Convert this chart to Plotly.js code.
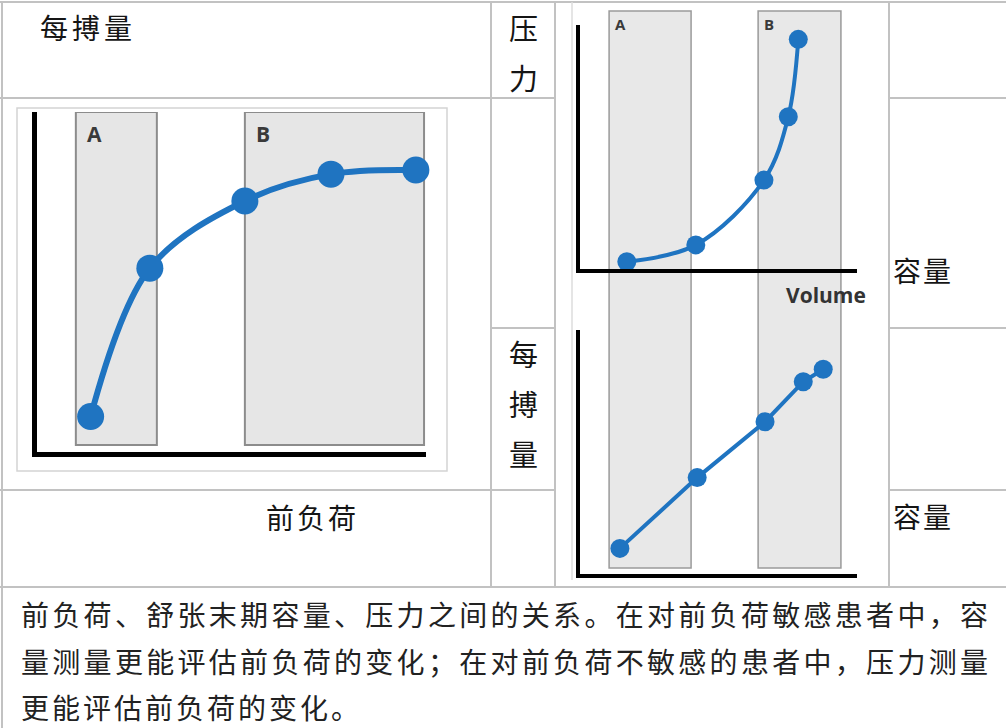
<!DOCTYPE html>
<html><head><meta charset="utf-8">
<script src="https://cdn.plot.ly/plotly-3.0.1.min.js"></script>
<style>html,body{margin:0;padding:0;background:#fff;}#chart{width:1006px;height:728px;}</style>
</head><body><div id="chart"></div>
<script>
// ---------- data ----------
const preloadX        = [1.39, 2.91, 5.35, 7.56, 9.74];
const strokeVolumeY   = [1.03, 5.40, 7.38, 8.17, 8.29];
const pressureVolX    = [1.69, 4.18, 6.64, 7.52, 7.88];
const pressureY       = [0.28, 0.97, 3.63, 6.23, 9.41];
const svVolX          = [1.44, 4.23, 6.68, 8.06, 8.78];
const svY             = [1.05, 3.95, 6.24, 7.88, 8.39];
const leftRegionA     = [1.01, 3.09];
const leftRegionB     = [5.35, 9.95];
const leftRegionY     = [0.19, 10];
const rightRegionA    = [1.05, 4.01];
const rightRegionB    = [6.43, 9.42];
const regionLabels    = ['A', 'B'];
const leftYLabel      = '每搏量';
const leftXLabel      = '前负荷';
const topRightYLabel  = '压力';
const bottomRightYLabel = '每搏量';
const rightXLabel     = '容量';
const volumeLabel     = 'Volume';
const captionLines = [
  '前负荷、舒张末期容量、压力之间的关系。在对前负荷敏感患者中，容',
  '量测量更能评估前负荷的变化；在对前负荷不敏感的患者中，压力测量',
  '更能评估前负荷的变化。'
];

// ---------- layout helpers ----------
const W = 1006, H = 728;
const fx = p => p / W;
const fy = p => 1 - p / H;
const BLUE = '#1f74c1';
const CJK = '"Noto Sans CJK SC", "Noto Sans", sans-serif';
const LAT = '"Open Sans", "DejaVu Sans", sans-serif';

const traces = [
  {x: preloadX, y: strokeVolumeY, xaxis: 'x', yaxis: 'y', mode: 'lines+markers',
   line: {color: BLUE, width: 6, shape: 'spline', smoothing: 1},
   marker: {color: BLUE, size: 27}, cliponaxis: false, hoverinfo: 'skip'},
  {x: pressureVolX, y: pressureY, xaxis: 'x2', yaxis: 'y2', mode: 'lines+markers',
   line: {color: BLUE, width: 4, shape: 'spline', smoothing: 1},
   marker: {color: BLUE, size: 19}, cliponaxis: false, hoverinfo: 'skip'},
  {x: svVolX, y: svY, xaxis: 'x3', yaxis: 'y3', mode: 'lines+markers',
   line: {color: BLUE, width: 4},
   marker: {color: BLUE, size: 19}, cliponaxis: false, hoverinfo: 'skip'}
];

function ax(domain, anchor, lw) {
  return {domain: domain, anchor: anchor, range: [0, 10], showline: true, linecolor: '#000',
          linewidth: lw, showgrid: false, zeroline: false, showticklabels: false, ticks: '',
          fixedrange: true};
}

const tableLine = (x0, y0, x1, y1) => ({type: 'line', xref: 'paper', yref: 'paper',
  x0: fx(x0), y0: fy(y0), x1: fx(x1), y1: fy(y1), line: {color: '#c2c2c2', width: 2}, layer: 'below'});

const shapes = [
  // table grid
  tableLine(0, 2, 1006, 2),
  tableLine(0, 98, 555, 98), tableLine(889, 98, 1006, 98),
  tableLine(491, 328, 555, 328), tableLine(889, 328, 1006, 328),
  tableLine(0, 490, 555, 490), tableLine(889, 490, 1006, 490),
  tableLine(0, 587, 1006, 587),
  tableLine(2, 2, 2, 728),
  tableLine(491, 2, 491, 587), tableLine(555, 2, 555, 587), tableLine(889, 2, 889, 587),
  // picture frames
  {type: 'rect', xref: 'paper', yref: 'paper', x0: fx(17), x1: fx(447), y0: fy(471), y1: fy(108),
   line: {color: '#d4d4d4', width: 1.5}, layer: 'below'},
  {type: 'line', xref: 'paper', yref: 'paper', x0: fx(572), x1: fx(572), y0: fy(2), y1: fy(580),
   line: {color: '#dcdcdc', width: 1.5}, layer: 'below'}
];
[leftRegionA, leftRegionB].forEach(r => shapes.push({type: 'rect', xref: 'x', yref: 'y',
  x0: r[0], x1: r[1], y0: leftRegionY[0], y1: leftRegionY[1],
  fillcolor: '#e6e6e6', line: {color: '#8c8c8c', width: 2}, layer: 'below'}));
[rightRegionA, rightRegionB].forEach(r => shapes.push({type: 'rect', xref: 'x2', yref: 'paper',
  x0: r[0], x1: r[1], y0: fy(568), y1: fy(11),
  fillcolor: '#e8e8e8', line: {color: '#9a9a9a', width: 1.5}, layer: 'below'}));

const ann = [];
function txt(text, x, y, size, opts) {
  ann.push(Object.assign({text: text, xref: 'paper', yref: 'paper', x: fx(x), y: fy(y),
    xanchor: 'left', yanchor: 'middle', showarrow: false,
    font: {family: CJK, size: size, color: '#151515'}}, opts || {}));
}
function spaced(s, ls) { return '<span style="letter-spacing:' + ls + 'px">' + s + '</span>'; }

// region labels
[leftRegionA, leftRegionB].forEach((r, i) => ann.push({text: '<b>' + regionLabels[i] + '</b>',
  xref: 'x', yref: 'paper', x: r[0], xshift: 9, y: fy(134), xanchor: 'left', yanchor: 'middle',
  showarrow: false, font: {family: LAT, size: 21, color: '#3a3a3a'}}));
[rightRegionA, rightRegionB].forEach((r, i) => ann.push({text: '<b>' + regionLabels[i] + '</b>',
  xref: 'x2', yref: 'paper', x: r[0], xshift: 4, y: fy(24), xanchor: 'left', yanchor: 'middle',
  showarrow: false, font: {family: LAT, size: 15, color: '#3a3a3a'}}));

// table labels
txt(spaced(leftYLabel, 4), 38, 27, 28);
txt(spaced(leftXLabel, 3), 264, 517, 28);
txt(spaced(rightXLabel, 2), 891, 270, 28);
txt(spaced(rightXLabel, 2), 891, 516, 28);
Array.from(topRightYLabel).forEach((c, i) => txt(c, 523, 27 + i * 50, 29, {xanchor: 'center'}));
Array.from(bottomRightYLabel).forEach((c, i) => txt(c, 523, 353 + i * 50, 29, {xanchor: 'center'}));
txt('<b>' + volumeLabel + '</b>', 826, 295, 21, {xanchor: 'center', font: {family: LAT, size: 21, color: '#333'}});

// caption
const capLS = [3.3, 3.3, 3.0];
captionLines.forEach((l, i) => txt(spaced(l, capLS[i]), 19, 614 + i * 46.5, 28, {font: {family: CJK, size: 28, color: '#222'}}));

const layout = {
  width: W, height: H, margin: {l: 0, r: 0, t: 0, b: 0},
  paper_bgcolor: '#fff', plot_bgcolor: 'rgba(0,0,0,0)', showlegend: false,
  xaxis: ax([fx(36.5), fx(426)], 'y', 5),
  yaxis: ax([fy(451.5), fy(112)], 'x', 5),
  xaxis2: ax([fx(580), fx(857)], 'y2', 4),
  yaxis2: ax([fy(268.5), fy(25)], 'x2', 4),
  xaxis3: ax([fx(580), fx(857)], 'y3', 4),
  yaxis3: ax([fy(574), fy(330)], 'x3', 4),
  shapes: shapes, annotations: ann
};
Plotly.newPlot('chart', traces, layout, {staticPlot: true, displayModeBar: false});
</script></body></html>
